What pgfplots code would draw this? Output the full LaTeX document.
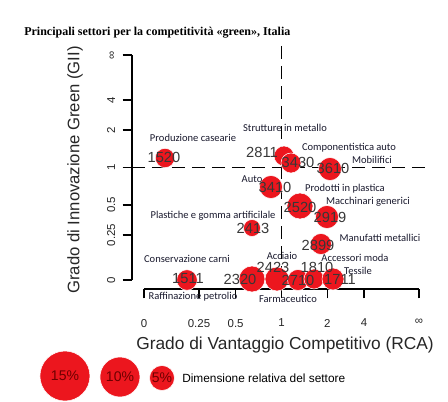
\documentclass[border=0pt]{standalone}
\usepackage{fontspec}
\setmainfont{Liberation Sans}
\newfontfamily\titlefont{Liberation Serif}
\newfontfamily\catfont{Carlito}
\usepackage{pgfplots}
\usepackage{pgfplotstable}
\pgfplotsset{compat=1.18}
\definecolor{bub}{RGB}{236,22,30}
\definecolor{numc}{RGB}{55,55,55}
\definecolor{catc}{RGB}{25,25,45}
\definecolor{legc}{RGB}{110,0,0}

% transformed coordinates: u = v/(1+v)  (x = RCA, y = GII), r = bubble radius (px)
\pgfplotstableread{
x y r
0.0764 0.5422 9.7
0.5091 0.5511 10
0.5345 0.5200 10
0.6764 0.4933 11.5
0.4618 0.4133 11.5
0.5673 0.3289 13
0.6655 0.2800 11.5
0.3927 0.2311 8.5
0.6436 0.1600 10.5
0.1564 0.0000 10.3
0.3927 0.0044 13
0.4836 0.0044 12
0.5600 0.0000 10.5
0.6182 0.0044 10
0.6873 0.0044 11
}\bubbles

\pgfplotstableread{
x y r
-0.2873 -0.4267 25
-0.0873 -0.4311 20
0.0655 -0.4356 12.5
}\legbubbles

\begin{document}
\begin{tikzpicture}[x=1pt,y=1pt]
\begin{scope}[x=0.75pt,y=-0.75pt,shift={(-98.9pt,216.75pt)}]
\useasboundingbox (0,0) rectangle (448,399);
\end{scope}
\begin{axis}[
  at={(0,0)}, anchor=south west,
  scale only axis, width=223.6pt, height=182.25pt,
  xmin=-0.044, xmax=1.04, ymin=-0.04, ymax=1.04,
  clip=false,
  axis x line*=bottom, axis y line*=left,
  axis line style={draw=none},
  tick align=outside,
  major tick length=7pt,
  tick style={black, line width=0.9pt},
  xtick={0,0.2,0.33333,0.5,0.66667,0.8,1},
  xticklabels={0,0.25,0.5,1,2,4,∞},
  ytick={0,0.2,0.33333,0.5,0.66667,0.8,1},
  yticklabels={0,0.25,0.5,1,2,4,∞},
  tick label style={font=\fontsize{8.6}{10}\selectfont, text=black!85},
  xticklabel style={yshift=-12pt},
  yticklabel style={rotate=90, anchor=south, xshift=0pt, yshift=2pt},
  bubble/.style={scatter, only marks, mark=*,
    scatter/use mapped color={draw=white, fill=bub},
    visualization depends on={0.75*\thisrow{r} \as \rad},
    scatter/@pre marker code/.append style={/tikz/mark size=\rad, /tikz/line width=0.6pt}},
]
\draw[black, line width=1pt] (axis cs:-0.044,0) -- (axis cs:-0.044,1);
\draw[black, line width=1pt] (axis cs:0,-0.04) -- (axis cs:1,-0.04);
\draw[black, line width=1.1pt, dash pattern=on 9.75pt off 5.25pt] (axis cs:-0.044,0.5) -- (axis cs:1.04,0.5);
\draw[black, line width=1.1pt, dash pattern=on 9.75pt off 5.25pt] (axis cs:0.5,1.04) -- (axis cs:0.5,-0.04);
\addplot[bubble] table[x=x,y=y] {\bubbles};
\addplot[bubble] table[x=x,y=y] {\legbubbles};
\end{axis}
\begin{scope}[x=0.75pt,y=-0.75pt,shift={(-98.9pt,216.75pt)}]
% title
\node[anchor=west, inner sep=0pt, font=\titlefont\bfseries\fontsize{9}{11}\selectfont] at (24,33) {Principali settori per la competitività «green», Italia};
% axis titles
\node[font=\fontsize{13}{15}\selectfont, text=black!85] at (285,345) {Grado di Vantaggio Competitivo (RCA)};
\node[rotate=90, font=\fontsize{12.5}{15}\selectfont, text=black!85] at (75,170) {Grado di Innovazione Green (GII)};
% numbers
\begin{scope}[every node/.style={font=\fontsize{11}{13}\selectfont, text=numc, inner sep=0pt}]
\node at (164,157) {1520};
\node at (262,152) {2811};
\node at (298,162) {3430};
\node at (333,168) {3610};
\node at (275,187) {3410};
\node at (300,207) {2520};
\node at (330,217) {2919};
\node at (253,228) {2413};
\node at (318,245) {2899};
\node at (188,279) {1511};
\node at (240,279) {2320};
\node at (273,267) {2423};
\node at (298,280) {2710};
\node at (317,267) {1810};
\node at (340,279) {1711};
\end{scope}
% categories
\begin{scope}[every node/.style={font=\catfont\fontsize{7.9}{9}\selectfont, text=catc, inner sep=0pt}]
\node at (193,138) {Produzione casearie};
\node at (285,128) {Strutture in metallo};
\node at (349,148) {Componentistica auto};
\node at (372,160) {Mobilifici};
\node at (252,179) {Auto};
\node at (345,189) {Prodotti in plastica};
\node at (368,202) {Macchinari generici};
\node at (213,216) {Plastiche e gomma artificilale};
\node at (380,238) {Manufatti metallici};
\node at (187,259) {Conservazione carni};
\node at (193,297) {Raffinazione petrolio};
\node at (282,256) {Acciaio};
\node at (355,258) {Accessori moda};
\node at (358,271) {Tessile};
\node at (288,299) {Farmaceutico};
\end{scope}
% legend
\begin{scope}[every node/.style={font=\fontsize{10.5}{12}\selectfont, text=legc, inner sep=0pt}]
\node at (65,376) {15\%};
\node at (120,377) {10\%};
\node at (162,378) {5\%};
\end{scope}
\node[anchor=west, inner sep=0pt, font=\fontsize{8.9}{11}\selectfont] at (182,378) {Dimensione relativa del settore};
\end{scope}
\end{tikzpicture}
\end{document}
